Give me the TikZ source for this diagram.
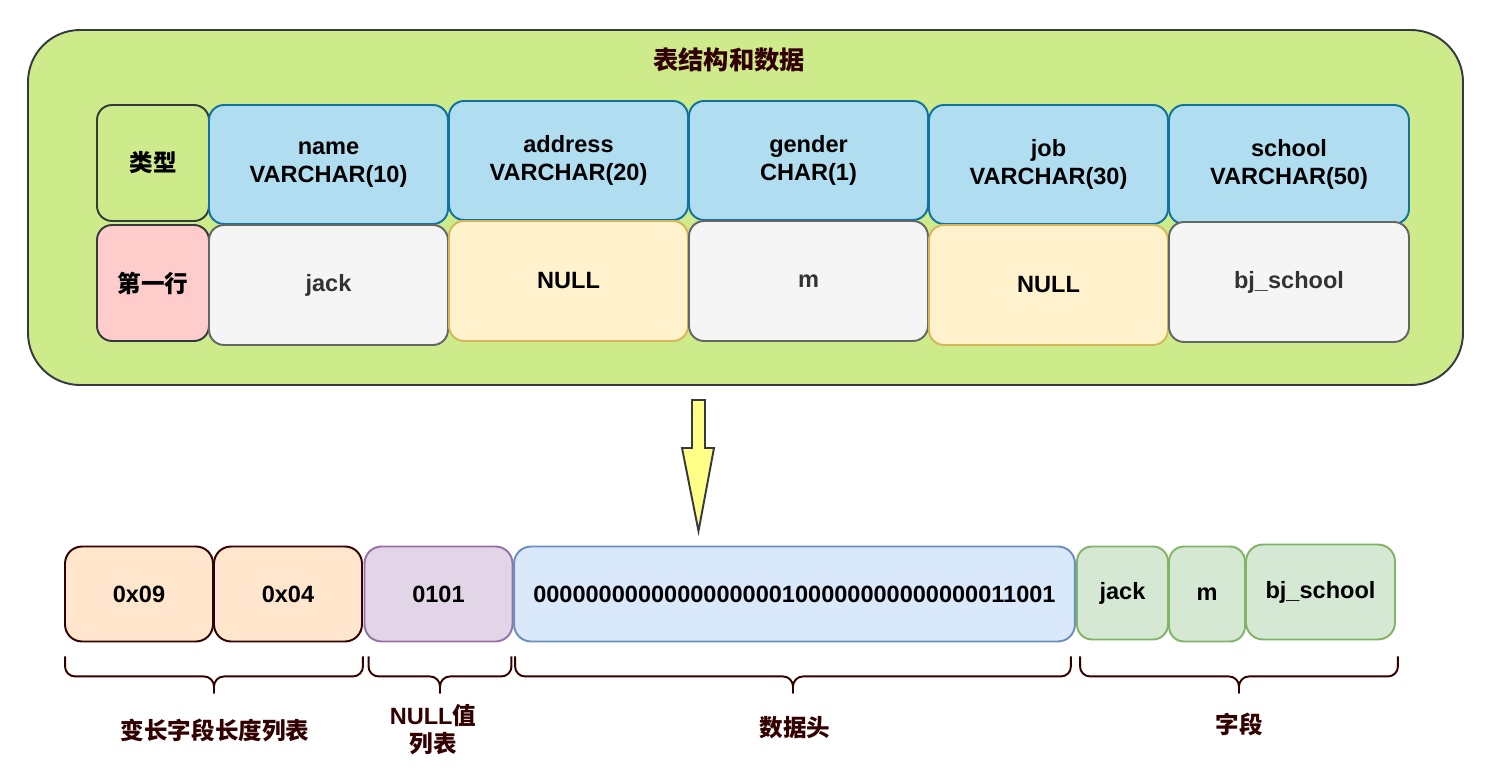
\documentclass[tikz,border=0pt]{standalone}
\usepackage{fontspec}
\setmainfont{Liberation Sans}
\newfontfamily\cjk{Noto Sans CJK SC}
\usetikzlibrary{calc}
\definecolor{outerfill}{HTML}{CDEB8B}
\definecolor{darkline}{HTML}{36393D}
\definecolor{bluefill}{HTML}{B1DDF0}
\definecolor{blueline}{HTML}{10739E}
\definecolor{grayfill}{HTML}{F5F5F5}
\definecolor{grayline}{HTML}{666666}
\definecolor{graytext}{HTML}{333333}
\definecolor{yelfill}{HTML}{FFF2CC}
\definecolor{yelline}{HTML}{D6B656}
\definecolor{redfill}{HTML}{FFCCCC}
\definecolor{brown}{HTML}{330000}
\definecolor{orfill}{HTML}{FFE6CC}
\definecolor{purfill}{HTML}{E1D5E7}
\definecolor{purline}{HTML}{9673A6}
\definecolor{hdrfill}{HTML}{DAE8FC}
\definecolor{hdrline}{HTML}{6C8EBF}
\definecolor{grnfill}{HTML}{D5E8D4}
\definecolor{grnline}{HTML}{82B366}
\definecolor{arrowfill}{HTML}{FFFF88}
\begin{document}
\begin{tikzpicture}[x=0.02cm,y=-0.02cm,line width=1.1pt,
  font=\bfseries\fontsize{13.4}{16}\selectfont,
  cell/.style={draw,rounded corners=0.3cm,align=center,inner sep=0pt,
    minimum width=4.78cm,minimum height=2.38cm},
  side/.style={cell,minimum width=2.24cm,minimum height=2.32cm,draw=darkline},
  typecell/.style={cell,fill=bluefill,draw=blueline},
  valcell/.style={cell,minimum height=2.4cm,fill=grayfill,draw=grayline,text=graytext},
  nullcell/.style={cell,minimum height=2.4cm,fill=yelfill,draw=yelline},
  rec/.style={draw,rounded corners=0.34cm,align=center,inner sep=0pt,
    minimum width=2.96cm,minimum height=1.9cm},
  fld/.style={rec,fill=grnfill,draw=grnline,minimum height=1.86cm},
  curly/.style={draw=brown,rounded corners=0.2cm},
  lbl/.style={text=brown,align=center}]
\useasboundingbox (0,0) rectangle (1492,780);
\draw[fill=outerfill,draw=darkline,rounded corners=1.04cm] (28,30) rectangle (1463,385);
\node[text=brown,font=\bfseries\fontsize{14.4}{16}\selectfont] (title) at (729,60) {\cjk 表结构和数据};
\node[side,fill=outerfill] (typ) at (153,163) {\cjk 类型};
\node[typecell] (name) at (328.5,164.5) {name\\VARCHAR(10)};
\node[typecell] (addr) at (568.5,160.5) {address\\VARCHAR(20)};
\node[typecell] (gender) at (808.5,160.5) {gender\\CHAR(1)};
\node[typecell] (job) at (1048.5,164.5) {job\\VARCHAR(30)};
\node[typecell,minimum width=4.8cm] (school) at (1289,164.5) {school\\VARCHAR(50)};
\node[side,fill=redfill] (row) at (153,283) {\cjk 第一行};
\node[valcell] (vjack) at (328.5,285) {jack};
\node[nullcell] (vaddr) at (568.5,281) {NULL};
\node[valcell] (vgender) at (808.5,281) {m};
\node[nullcell] (vjob) at (1048.5,285) {NULL};
\node[valcell,minimum width=4.8cm] (vschool) at (1289,282) {bj\_school};
\draw[fill=arrowfill,draw=darkline,line join=miter] (692,400) -- (705,400) -- (705,448) -- (714,448)
  -- (698.5,531) -- (682,448) -- (692,448) -- cycle;
\node[rec,fill=orfill,draw=brown] (len1) at (139,594) {0x09};
\node[rec,fill=orfill,draw=brown] (len2) at (288,594) {0x04};
\node[rec,fill=purfill,draw=purline] (nul) at (438.5,594) {0101};
\node[rec,fill=hdrfill,draw=hdrline,minimum width=11.22cm] (hdr) at (794.5,594)
  {0000000000000000000100000000000000011001};
\node[fld,minimum width=1.82cm,rounded corners=0.3cm] (fjack) at (1122.5,593) {jack};
\node[fld,minimum width=1.52cm,minimum height=1.9cm,rounded corners=0.3cm] (fm) at (1207,594) {m};
\node[fld,minimum width=2.98cm,minimum height=1.9cm] (fschool) at (1320.5,592) {bj\_school};
\coordinate (b1l) at ([shift={(1,14)}]len1.south west);
\coordinate (b1r) at ([shift={(0,14)}]len2.south east);
\coordinate (b2l) at ([shift={(5,14)}]nul.south west);
\coordinate (b2r) at ([shift={(-2,14)}]nul.south east);
\coordinate (b3l) at ([shift={(2,14)}]hdr.south west);
\coordinate (b3r) at ([shift={(-5,14)}]hdr.south east);
\coordinate (b4l) at ([shift={(4,16)}]fjack.south west);
\coordinate (b4r) at ([shift={(2,16)}]fschool.south east);
\foreach \b in {b1,b2,b3,b4}{
  \coordinate (\b m) at ($(\b l)!0.5!(\b r)+(0,20)$);
  \draw[curly] (\b l) |- (\b m) -- ++(0,17);
  \draw[curly] (\b r) |- (\b m) -- ++(0,17);
}
\node[lbl] (l1) at (215,730) {\cjk 变长字段长度列表};
\node[lbl] (l2) at (433,730) {NULL{\cjk 值}\\{\cjk 列表}};
\node[lbl] (l3) at (795,728) {\cjk 数据头};
\node[lbl] (l4) at (1239,724) {\cjk 字段};
\end{tikzpicture}
\end{document}
